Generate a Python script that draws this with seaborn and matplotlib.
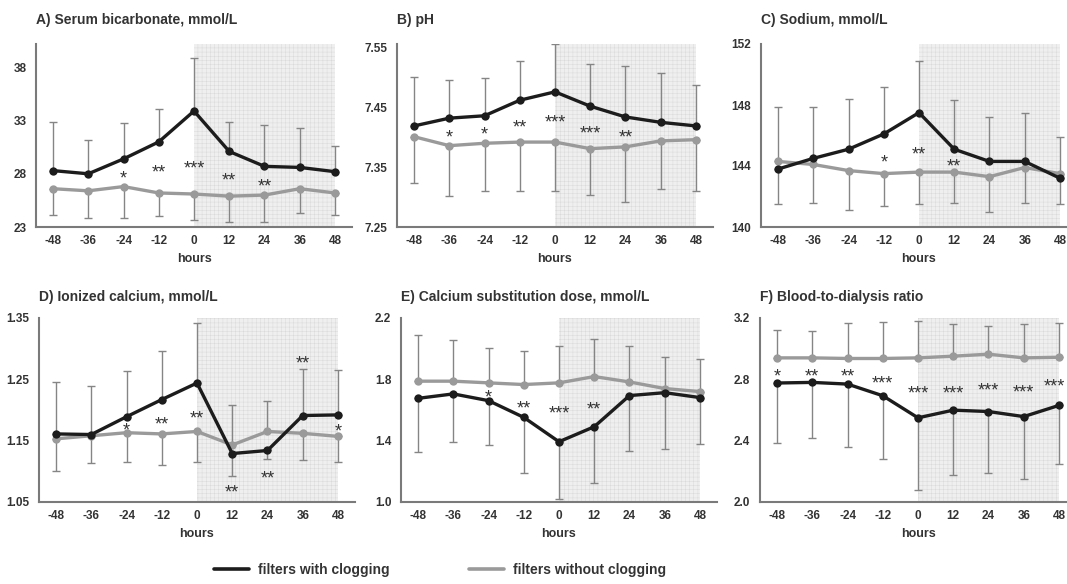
import numpy as np
import pandas as pd
import matplotlib
matplotlib.use("Agg")
import matplotlib.pyplot as plt
from matplotlib.lines import Line2D
import seaborn as sns

# time points around filter change (hours)
hours = [-48, -36, -24, -12, 0, 12, 24, 36, 48]

# A) serum bicarbonate
bic_clog = [28.3, 28.0, 29.4, 31.0, 33.9, 30.1, 28.7, 28.6, 28.2]
bic_clog_sd = [4.6, 3.2, 3.4, 3.1, 5.0, 2.8, 3.9, 3.7, 2.4]
bic_free = [26.6, 26.4, 26.8, 26.2, 26.1, 25.9, 26.0, 26.6, 26.2]
bic_free_sd = [2.5, 2.6, 3.0, 2.2, 2.4, 2.4, 2.5, 2.3, 2.1]
bic_stars = ["", "", "*", "**", "***", "**", "**", "", ""]
bic_star_y = [0, 0, 28.1, 28.6, 29.0, 27.9, 27.3, 0, 0]

# B) pH
ph_clog = [7.419, 7.432, 7.436, 7.462, 7.476, 7.452, 7.434, 7.425, 7.419]
ph_clog_sd = [0.081, 0.063, 0.063, 0.065, 0.080, 0.070, 0.085, 0.083, 0.068]
ph_free = [7.401, 7.386, 7.390, 7.392, 7.392, 7.381, 7.384, 7.394, 7.396]
ph_free_sd = [0.078, 0.084, 0.080, 0.082, 0.082, 0.077, 0.092, 0.080, 0.085]
ph_stars = ["", "*", "*", "**", "***", "***", "**", "", ""]
ph_star_y = [0, 7.409, 7.413, 7.426, 7.433, 7.416, 7.409, 0, 0]

# C) sodium
na_clog = [143.8, 144.5, 145.1, 146.1, 147.5, 145.1, 144.3, 144.3, 143.2]
na_clog_sd = [2.3, 3.4, 3.3, 3.1, 3.4, 3.2, 2.9, 3.2, 1.7]
na_free = [144.3, 144.1, 143.7, 143.5, 143.6, 143.6, 143.3, 143.9, 143.5]
na_free_sd = [3.6, 2.5, 2.6, 2.1, 2.1, 2.0, 2.3, 2.3, 2.4]
na_stars = ["", "", "", "*", "**", "**", "", "", ""]
na_star_y = [0, 0, 0, 144.6, 145.1, 144.3, 0, 0, 0]

# D) ionized calcium
ca_clog = [1.161, 1.160, 1.189, 1.217, 1.244, 1.129, 1.134, 1.191, 1.192]
ca_clog_sd = [0.084, 0.079, 0.074, 0.079, 0.098, 0.036, 0.014, 0.076, 0.074]
ca_free = [1.153, 1.158, 1.163, 1.161, 1.165, 1.143, 1.165, 1.162, 1.157]
ca_free_sd = [0.053, 0.044, 0.048, 0.050, 0.050, 0.065, 0.050, 0.043, 0.042]
ca_stars = ["", "", "*", "**", "**", "**", "**", "**", "*"]
ca_star_y = [0, 0, 1.175, 1.185, 1.195, 1.074, 1.097, 1.284, 1.173]

# E) calcium substitution dose
dose_clog = [1.676, 1.705, 1.661, 1.552, 1.393, 1.491, 1.694, 1.713, 1.681]
dose_clog_sd = [0.353, 0.312, 0.290, 0.362, 0.371, 0.364, 0.360, 0.368, 0.306]
dose_free = [1.788, 1.788, 1.777, 1.766, 1.777, 1.818, 1.783, 1.740, 1.720]
dose_free_sd = [0.303, 0.270, 0.225, 0.222, 0.238, 0.247, 0.232, 0.203, 0.214]
dose_stars = ["", "", "*", "**", "***", "**", "", "", ""]
dose_star_y = [0, 0, 1.716, 1.648, 1.611, 1.639, 0, 0, 0]

# F) blood-to-dialysis ratio
ratio_clog = [2.776, 2.780, 2.769, 2.693, 2.549, 2.599, 2.590, 2.557, 2.630]
ratio_clog_sd = [0.389, 0.360, 0.408, 0.415, 0.468, 0.426, 0.400, 0.406, 0.385]
ratio_free = [2.940, 2.940, 2.936, 2.936, 2.940, 2.951, 2.964, 2.940, 2.944]
ratio_free_sd = [0.179, 0.175, 0.231, 0.236, 0.238, 0.210, 0.181, 0.221, 0.223]
ratio_stars = ["*", "**", "**", "***", "***", "***", "***", "***", "***"]
ratio_star_y = [2.857, 2.857, 2.857, 2.807, 2.743, 2.743, 2.765, 2.750, 2.787]

panels = [
    dict(title="A) Serum bicarbonate, mmol/L", clog=bic_clog, clog_sd=bic_clog_sd,
         free=bic_free, free_sd=bic_free_sd, stars=bic_stars, star_y=bic_star_y,
         yticks=[23, 28, 33, 38], ylabels=["23", "28", "33", "38"], ylim=(23, 40.2)),
    dict(title="B) pH", clog=ph_clog, clog_sd=ph_clog_sd,
         free=ph_free, free_sd=ph_free_sd, stars=ph_stars, star_y=ph_star_y,
         yticks=[7.25, 7.35, 7.45, 7.55], ylabels=["7.25", "7.35", "7.45", "7.55"], ylim=(7.25, 7.556)),
    dict(title="C) Sodium, mmol/L", clog=na_clog, clog_sd=na_clog_sd,
         free=na_free, free_sd=na_free_sd, stars=na_stars, star_y=na_star_y,
         yticks=[140, 144, 148, 152], ylabels=["140", "144", "148", "152"], ylim=(140, 152)),
    dict(title="D) Ionized calcium, mmol/L", clog=ca_clog, clog_sd=ca_clog_sd,
         free=ca_free, free_sd=ca_free_sd, stars=ca_stars, star_y=ca_star_y,
         yticks=[1.05, 1.15, 1.25, 1.35], ylabels=["1.05", "1.15", "1.25", "1.35"], ylim=(1.05, 1.35)),
    dict(title="E) Calcium substitution dose, mmol/L", clog=dose_clog, clog_sd=dose_clog_sd,
         free=dose_free, free_sd=dose_free_sd, stars=dose_stars, star_y=dose_star_y,
         yticks=[1.0, 1.4, 1.8, 2.2], ylabels=["1.0", "1.4", "1.8", "2.2"], ylim=(1.0, 2.2)),
    dict(title="F) Blood-to-dialysis ratio", clog=ratio_clog, clog_sd=ratio_clog_sd,
         free=ratio_free, free_sd=ratio_free_sd, stars=ratio_stars, star_y=ratio_star_y,
         yticks=[2.0, 2.4, 2.8, 3.2], ylabels=["2.0", "2.4", "2.8", "3.2"], ylim=(2.0, 3.2)),
]

BLACK = "#1c1c1c"
GRAY = "#9a9a9a"
ERR = "#858585"
AXIS = "#7a7a7a"
TEXT = "#333333"

sns.set_style("white")
plt.rcParams["font.family"] = ["Liberation Sans", "DejaVu Sans"]
plt.rcParams["hatch.linewidth"] = 0.35

W, H = 1067, 584
fig = plt.figure(figsize=(W / 100, H / 100), dpi=100)

# axes boxes in pixels: left, top, bottom
lefts = [36, 397, 761, 39, 401, 760]
tops = [44, 44, 44, 318, 318, 318]
bottoms = [227, 227, 227, 502, 502, 502]
ax_w = 316

star_texts = []
for i, p in enumerate(panels):
    ax = fig.add_axes([lefts[i] / W, 1 - bottoms[i] / H, ax_w / W, (bottoms[i] - tops[i]) / H])
    ax.set_xlim(-53.8, 53.8)
    ax.set_ylim(*p["ylim"])

    # period after filter change
    ax.axvspan(0, 48, facecolor="#efefef", edgecolor="#dadada", hatch="++++", lw=0, zorder=0)

    clog = np.array(p["clog"])
    free = np.array(p["free"])
    up = clog >= free
    # one-sided error bars: upper curve points up, lower curve points down
    for vals, sd, upper in [(clog, np.array(p["clog_sd"]), up), (free, np.array(p["free_sd"]), ~up)]:
        ax.errorbar(hours, vals, yerr=[np.where(upper, 0, sd), np.where(upper, sd, 0)],
                    fmt="none", ecolor=ERR, elinewidth=1, capsize=3, capthick=1, zorder=2)

    df = pd.DataFrame({
        "hours": hours * 2,
        "value": list(p["free"]) + list(p["clog"]),
        "group": ["without"] * 9 + ["with"] * 9,
    })
    sns.lineplot(data=df, x="hours", y="value", hue="group", hue_order=["without", "with"],
                 palette={"with": BLACK, "without": GRAY}, marker="o", markersize=6,
                 markeredgewidth=0, linewidth=2.4, legend=False, ax=ax, zorder=3)

    for h, s, y in zip(hours, p["stars"], p["star_y"]):
        if s:
            t = ax.annotate(s, (h, y), xytext=(0, -7.5), textcoords="offset points",
                            ha="center", va="baseline", fontsize=13, color=TEXT, zorder=4)
            star_texts.append(t)

    sns.despine(ax=ax)
    for side in ["left", "bottom"]:
        ax.spines[side].set_color(AXIS)
        ax.spines[side].set_linewidth(1.5)
    ax.set_xticks(hours, [str(h) for h in hours])
    ax.set_yticks(p["yticks"], p["ylabels"])
    ax.tick_params(axis="both", length=0, labelsize=8.5, labelcolor=TEXT)
    ax.tick_params(axis="y", pad=7)
    ax.tick_params(axis="x", pad=6)
    for lab in ax.get_xticklabels() + ax.get_yticklabels():
        lab.set_fontweight("bold")
    ax.set_xlabel("hours", fontsize=9, fontweight="bold", color=TEXT, labelpad=4)
    ax.set_ylabel("")

    title_y = 20 if i < 3 else 297
    fig.text(lefts[i] / W, 1 - title_y / H, p["title"], fontsize=10, fontweight="bold",
             color=TEXT, va="center", ha="left")

handles = [Line2D([], [], color=BLACK, lw=2.6), Line2D([], [], color=GRAY, lw=2.6)]
fig.legend(handles, ["filters with clogging", "filters without clogging"], loc="center",
           bbox_to_anchor=(440 / W, 1 - 570 / H), ncol=2, frameon=False,
           prop={"weight": "bold", "size": 10}, handlelength=2.5, handletextpad=0.65,
           columnspacing=5.7, labelcolor=TEXT)

# nudge star labels that would run past the right edge of the figure
fig.canvas.draw()
renderer = fig.canvas.get_renderer()
for t in star_texts:
    bb = t.get_window_extent(renderer)
    over = bb.x1 - (W - 2)
    if over > 0:
        t.xyann = (-over * 72 / fig.dpi, t.xyann[1])

fig.savefig("out.png", dpi=100)
